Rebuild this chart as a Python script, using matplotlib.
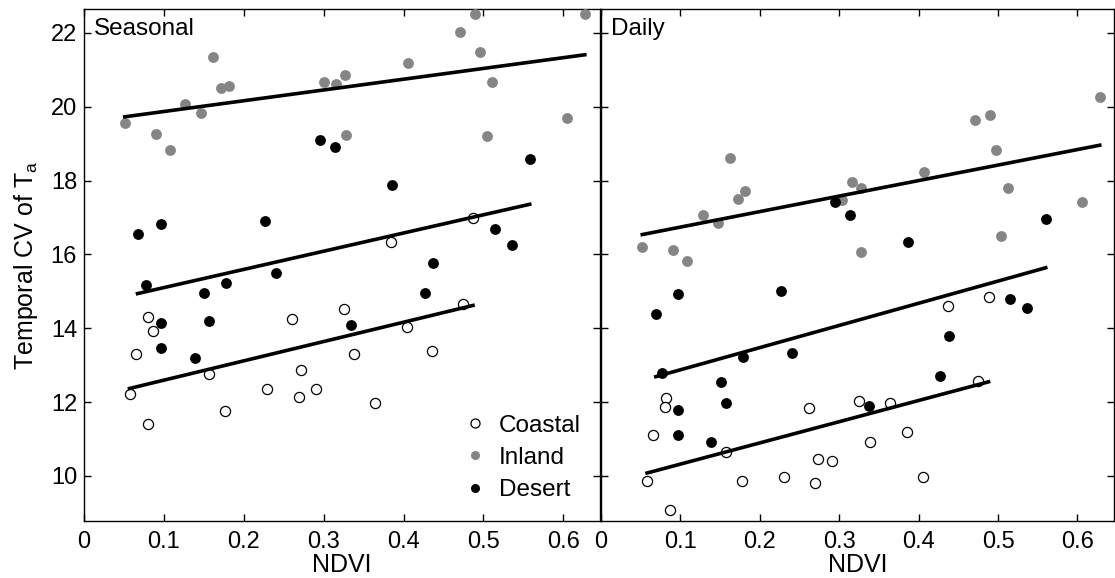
import matplotlib
matplotlib.use("Agg")
import matplotlib.pyplot as plt
import numpy as np
from matplotlib.lines import Line2D

plt.rcParams['font.family'] = ['Liberation Sans', 'DejaVu Sans']
plt.rcParams['mathtext.default'] = 'regular'

# Seasonal panel
seas_coastal_x = [0.080, 0.087, 0.065, 0.057, 0.080, 0.157, 0.176, 0.261, 0.229, 0.272,
                  0.269, 0.290, 0.325, 0.338, 0.364, 0.404, 0.436, 0.475, 0.487, 0.384]
seas_coastal_y = [14.30, 13.93, 13.31, 12.22, 11.40, 12.76, 11.77, 14.25, 12.35, 12.87,
                  12.14, 12.36, 14.52, 13.31, 11.99, 14.03, 13.39, 14.67, 16.98, 16.34]
seas_inland_x = [0.051, 0.090, 0.108, 0.127, 0.147, 0.161, 0.172, 0.181, 0.300, 0.315,
                 0.327, 0.328, 0.406, 0.471, 0.490, 0.496, 0.511, 0.504, 0.605, 0.627]
seas_inland_y = [19.55, 19.26, 18.83, 20.08, 19.84, 21.36, 20.50, 20.57, 20.68, 20.61,
                 20.85, 19.23, 21.18, 22.02, 22.52, 21.49, 20.68, 19.21, 19.70, 22.52]
seas_desert_x = [0.067, 0.097, 0.227, 0.295, 0.314, 0.078, 0.178, 0.240, 0.150, 0.097,
                 0.157, 0.096, 0.139, 0.385, 0.558, 0.514, 0.536, 0.437, 0.427, 0.334]
seas_desert_y = [16.56, 16.83, 16.92, 19.10, 18.92, 15.18, 15.23, 15.50, 14.97, 14.14,
                 14.19, 13.48, 13.19, 17.88, 18.60, 16.70, 16.27, 15.77, 14.97, 14.10]

# Daily panel
day_coastal_x = [0.082, 0.080, 0.065, 0.058, 0.087, 0.158, 0.177, 0.262, 0.230, 0.273,
                 0.291, 0.270, 0.325, 0.364, 0.339, 0.385, 0.405, 0.475, 0.437, 0.488]
day_coastal_y = [12.10, 11.87, 11.10, 9.87, 9.07, 10.64, 9.87, 11.83, 9.97, 10.45,
                 10.41, 9.81, 12.03, 11.99, 10.91, 11.18, 9.96, 12.58, 14.61, 14.86]
day_inland_x = [0.052, 0.091, 0.108, 0.128, 0.147, 0.162, 0.173, 0.181, 0.316, 0.303,
                0.328, 0.328, 0.407, 0.471, 0.490, 0.497, 0.513, 0.504, 0.606, 0.628]
day_inland_y = [16.21, 16.13, 15.83, 17.08, 16.85, 18.61, 17.51, 17.71, 17.95, 17.47,
                17.79, 16.06, 18.23, 19.63, 19.77, 18.82, 17.80, 16.51, 17.42, 20.27]
day_desert_x = [0.295, 0.314, 0.069, 0.097, 0.227, 0.077, 0.179, 0.241, 0.151, 0.158,
                0.097, 0.097, 0.139, 0.386, 0.560, 0.515, 0.537, 0.438, 0.427, 0.337]
day_desert_y = [17.43, 17.06, 14.40, 14.94, 15.02, 12.78, 13.21, 13.34, 12.54, 11.98,
                11.80, 11.11, 10.92, 16.34, 16.96, 14.80, 14.54, 13.80, 12.71, 11.90]

# fitted line values at the ends of each group's NDVI range
seas_fit_coastal = [12.37, 14.62]
seas_fit_inland = [19.73, 21.41]
seas_fit_desert = [14.94, 17.36]
day_fit_coastal = [10.08, 12.55]
day_fit_inland = [16.54, 18.96]
day_fit_desert = [12.69, 15.64]

panels = [
    ("Seasonal",
     [(seas_coastal_x, seas_coastal_y, seas_fit_coastal),
      (seas_inland_x, seas_inland_y, seas_fit_inland),
      (seas_desert_x, seas_desert_y, seas_fit_desert)]),
    ("Daily",
     [(day_coastal_x, day_coastal_y, day_fit_coastal),
      (day_inland_x, day_inland_y, day_fit_inland),
      (day_desert_x, day_desert_y, day_fit_desert)]),
]
styles = [
    dict(marker='o', ms=7.3, mfc='white', mec='black', mew=0.9, ls='none'),
    dict(marker='o', ms=7.8, mfc='#858585', mec='#858585', mew=0, ls='none'),
    dict(marker='o', ms=7.8, mfc='black', mec='black', mew=0, ls='none'),
]

fig = plt.figure(figsize=(11.15, 5.78), dpi=100)
W, H = 1115, 578
ax1 = fig.add_axes([84 / W, 57 / H, 516 / W, 512 / H])
ax2 = fig.add_axes([601 / W, 57 / H, 513 / W, 512 / H])

for ax, (title, groups) in zip([ax1, ax2], panels):
    for (gx, gy, fit), st in zip(groups, styles):
        ax.plot(gx, gy, **st, zorder=3)
        ax.plot([min(gx), max(gx)], fit, color='black', lw=2.6, zorder=4)
    ax.set_xlim(0, 0.646)
    ax.set_ylim(8.78, 22.65)
    ax.set_xticks([0, 0.1, 0.2, 0.3, 0.4, 0.5, 0.6])
    ax.set_xticklabels(['0', '0.1', '0.2', '0.3', '0.4', '0.5', '0.6'])
    ax.set_yticks([10, 12, 14, 16, 18, 20, 22])
    ax.tick_params(direction='in', top=True, right=True, length=5, width=1,
                   labelsize=17)
    ax.tick_params(axis='x', pad=7)
    ax.tick_params(axis='y', pad=5)
    ax.set_xlabel('NDVI', fontsize=18, labelpad=0)
    ax.text(0.02, 0.983, title, transform=ax.transAxes, fontsize=17.5,
            ha='left', va='top', zorder=6)
    for sp in ax.spines.values():
        sp.set_linewidth(1.0)

ax2.tick_params(labelleft=False)
ax1.set_ylabel('Temporal CV of T$_a$', fontsize=18, labelpad=8)

handles = [Line2D([], [], **dict(styles[0], ms=6.5)),
           Line2D([], [], **dict(styles[1], ms=6.5)),
           Line2D([], [], **dict(styles[2], ms=6.5))]
ax1.legend(handles, ['Coastal', 'Inland', 'Desert'], loc='lower right',
           frameon=False, fontsize=17.5, handlelength=1.0, handletextpad=0.5,
           labelspacing=0.42, borderaxespad=0.0, bbox_to_anchor=(0.982, 0.02))

fig.savefig('out.png', dpi=100)
